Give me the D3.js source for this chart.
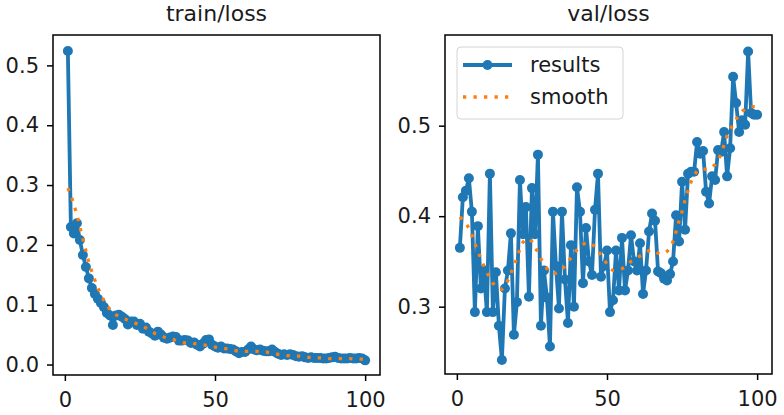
<!DOCTYPE html>
<html>
<head>
<meta charset="utf-8">
<script src="https://cdn.jsdelivr.net/npm/d3@7"></script>
<style>
body { margin: 0; background: #fff; }
text { font-family: "DejaVu Sans", sans-serif; }
</style>
</head>
<body>
<script>
var svgWidth = 784;
var svgHeight = 415;

// epochs on the x axis
var epochs = d3.range(1, 101);

var trainLoss = [
  0.524, 0.230, 0.219, 0.236, 0.208, 0.183, 0.163, 0.144, 0.128, 0.118,
  0.110, 0.103, 0.096, 0.086, 0.082, 0.066, 0.082, 0.083, 0.080, 0.076,
  0.067, 0.072, 0.072, 0.066, 0.068, 0.060, 0.062, 0.055, 0.052, 0.048,
  0.055, 0.050, 0.045, 0.043, 0.045, 0.047, 0.046, 0.040, 0.040, 0.041,
  0.040, 0.036, 0.037, 0.033, 0.030, 0.035, 0.041, 0.042, 0.033, 0.030,
  0.028, 0.030, 0.027, 0.027, 0.026, 0.025, 0.022, 0.019, 0.021, 0.021,
  0.025, 0.030, 0.025, 0.024, 0.025, 0.023, 0.022, 0.022, 0.025, 0.021,
  0.018, 0.016, 0.017, 0.016, 0.017, 0.016, 0.014, 0.013, 0.014, 0.012,
  0.011, 0.012, 0.011, 0.011, 0.011, 0.010, 0.010, 0.011, 0.012, 0.013,
  0.011, 0.010, 0.010, 0.010, 0.011, 0.010, 0.010, 0.011, 0.010, 0.007
];

var trainSmooth = [
  0.295, 0.283, 0.268, 0.250, 0.230, 0.210, 0.190, 0.170, 0.155, 0.141,
  0.128, 0.117, 0.107, 0.099, 0.092, 0.087, 0.083, 0.081, 0.078, 0.076,
  0.074, 0.072, 0.070, 0.068, 0.066, 0.064, 0.061, 0.058, 0.055, 0.052,
  0.050, 0.048, 0.046, 0.045, 0.044, 0.042, 0.040, 0.038, 0.037, 0.036,
  0.036, 0.036, 0.035, 0.035, 0.034, 0.033, 0.032, 0.031, 0.030, 0.029,
  0.028, 0.028, 0.027, 0.026, 0.025, 0.024, 0.023, 0.023, 0.022, 0.022,
  0.022, 0.022, 0.022, 0.022, 0.021, 0.021, 0.021, 0.020, 0.019, 0.018,
  0.017, 0.017, 0.016, 0.015, 0.015, 0.014, 0.014, 0.014, 0.013, 0.013,
  0.012, 0.012, 0.012, 0.011, 0.011, 0.011, 0.011, 0.010, 0.010, 0.010,
  0.010, 0.010, 0.010, 0.010, 0.010, 0.009, 0.009, 0.009, 0.009, 0.009
];

var valLoss = [
  0.365, 0.421, 0.428, 0.442, 0.405, 0.294, 0.389, 0.320, 0.340, 0.294,
  0.447, 0.294, 0.338, 0.279, 0.241, 0.320, 0.340, 0.381, 0.269, 0.305,
  0.440, 0.380, 0.410, 0.311, 0.431, 0.380, 0.468, 0.279, 0.340, 0.310,
  0.256, 0.405, 0.345, 0.298, 0.405, 0.330, 0.282, 0.368, 0.300, 0.432,
  0.405, 0.326, 0.387, 0.350, 0.335, 0.407, 0.447, 0.333, 0.345, 0.362,
  0.294, 0.307, 0.362, 0.318, 0.376, 0.318, 0.340, 0.379, 0.350, 0.340,
  0.370, 0.314, 0.340, 0.383, 0.403, 0.395, 0.339, 0.337, 0.331, 0.329,
  0.336, 0.350, 0.401, 0.372, 0.438, 0.385, 0.447, 0.449, 0.449, 0.482,
  0.469, 0.472, 0.427, 0.414, 0.444, 0.440, 0.473, 0.471, 0.493, 0.444,
  0.475, 0.554, 0.525, 0.493, 0.506, 0.501, 0.582, 0.514, 0.512, 0.512
];

var valSmooth = [
  0.399, 0.396, 0.392, 0.387, 0.379, 0.370, 0.361, 0.353, 0.345, 0.338,
  0.331, 0.326, 0.322, 0.320, 0.319, 0.323, 0.329, 0.337, 0.345, 0.354,
  0.364, 0.371, 0.375, 0.375, 0.372, 0.366, 0.360, 0.353, 0.347, 0.342,
  0.338, 0.337, 0.337, 0.339, 0.341, 0.345, 0.349, 0.354, 0.358, 0.363,
  0.367, 0.369, 0.370, 0.371, 0.369, 0.366, 0.362, 0.357, 0.352, 0.347,
  0.342, 0.340, 0.340, 0.341, 0.342, 0.344, 0.347, 0.350, 0.352, 0.354,
  0.356, 0.358, 0.360, 0.362, 0.363, 0.361, 0.359, 0.358, 0.359, 0.361,
  0.365, 0.372, 0.383, 0.395, 0.405, 0.418, 0.428, 0.438, 0.445, 0.450,
  0.452, 0.452, 0.452, 0.452, 0.454, 0.457, 0.462, 0.469, 0.479, 0.489,
  0.495, 0.502, 0.507, 0.512, 0.516, 0.518, 0.520, 0.521, 0.521, 0.521
];

var xTicks = [0, 50, 100];
var trainYTicks = [0.0, 0.1, 0.2, 0.3, 0.4, 0.5];
var valYTicks = [0.3, 0.4, 0.5];
var legendLabels = ["results", "smooth"];

var blue = "#1f77b4";
var orange = "#ff7f0e";

// panel boxes in pixels, axis limits in data units
var panels = [
  { title: "train/loss", left: 53, right: 380, top: 35, bottom: 375,
    xDomain: [-3.95, 104.95], yDomain: [-0.0175, 0.5508],
    results: trainLoss, smooth: trainSmooth, yTicks: trainYTicks, legend: false },
  { title: "val/loss", left: 445, right: 772, top: 35, bottom: 374,
    xDomain: [-3.95, 104.95], yDomain: [0.2256, 0.6002],
    results: valLoss, smooth: valSmooth, yTicks: valYTicks, legend: true }
];

var svg = d3.select('body').append('svg')
  .attr('width', svgWidth)
  .attr('height', svgHeight);

panels.forEach(p => {
  var xScale = d3.scaleLinear().domain(p.xDomain).range([p.left, p.right]);
  var yScale = d3.scaleLinear().domain(p.yDomain).range([p.bottom, p.top]);

  var g = svg.append("g");

  var line = d3.line()
    .x((d, i) => xScale(epochs[i]))
    .y(d => yScale(d));

  // results line + markers
  g.append("path")
    .datum(p.results)
    .attr("d", line)
    .attr("fill", "none")
    .attr("stroke", blue)
    .attr("stroke-width", 3.8)
    .attr("stroke-linejoin", "round");

  g.selectAll("circle.pt")
    .data(p.results)
    .enter()
    .append("circle")
    .attr("class", "pt")
    .attr("cx", (d, i) => xScale(epochs[i]))
    .attr("cy", d => yScale(d))
    .attr("r", 5)
    .attr("fill", blue);

  // smoothed dotted line
  g.append("path")
    .datum(p.smooth)
    .attr("d", line)
    .attr("fill", "none")
    .attr("stroke", orange)
    .attr("stroke-width", 3.3)
    .attr("stroke-dasharray", "3.3,7.2");

  // frame
  g.append("rect")
    .attr("x", p.left)
    .attr("y", p.top)
    .attr("width", p.right - p.left)
    .attr("height", p.bottom - p.top)
    .attr("fill", "none")
    .attr("stroke", "#000")
    .attr("stroke-width", 1.5);

  // axes
  var xAxis = g.append("g")
    .attr("transform", `translate(0,${p.bottom})`)
    .call(d3.axisBottom(xScale).tickValues(xTicks).tickSize(6).tickPadding(11).tickFormat(d3.format("d")));

  var yAxis = g.append("g")
    .attr("transform", `translate(${p.left},0)`)
    .call(d3.axisLeft(yScale).tickValues(p.yTicks).tickSize(6).tickPadding(8).tickFormat(d3.format(".1f")));

  [xAxis, yAxis].forEach(a => {
    a.select(".domain").remove();
    a.selectAll(".tick line").attr("stroke", "#000").attr("stroke-width", 1.5);
    a.selectAll(".tick text")
      .attr("font-family", "DejaVu Sans")
      .attr("font-size", 21)
      .attr("fill", "#1a1a1a");
  });

  // title
  g.append("text")
    .attr("x", (p.left + p.right) / 2)
    .attr("y", 21)
    .attr("text-anchor", "middle")
    .attr("font-size", 22)
    .attr("fill", "#1a1a1a")
    .text(p.title);

  if (p.legend) {
    var lg = g.append("g");
    lg.append("rect")
      .attr("x", 457).attr("y", 47)
      .attr("width", 166).attr("height", 72)
      .attr("rx", 4)
      .attr("fill", "#fff").attr("fill-opacity", 0.8)
      .attr("stroke", "#d4d4d4").attr("stroke-width", 1);

    lg.append("line")
      .attr("x1", 463).attr("x2", 512).attr("y1", 65).attr("y2", 65)
      .attr("stroke", blue).attr("stroke-width", 3.8);
    lg.append("circle")
      .attr("cx", 487.5).attr("cy", 65).attr("r", 5).attr("fill", blue);

    lg.append("line")
      .attr("x1", 463).attr("x2", 512).attr("y1", 97).attr("y2", 97)
      .attr("stroke", orange).attr("stroke-width", 3.3)
      .attr("stroke-dasharray", "3.3,7.2");

    lg.selectAll("text")
      .data(legendLabels)
      .enter()
      .append("text")
      .attr("x", 530)
      .attr("y", (d, i) => 72 + i * 32)
      .attr("font-size", 21)
      .attr("fill", "#1a1a1a")
      .text(d => d);
  }
});
</script>
</body>
</html>
